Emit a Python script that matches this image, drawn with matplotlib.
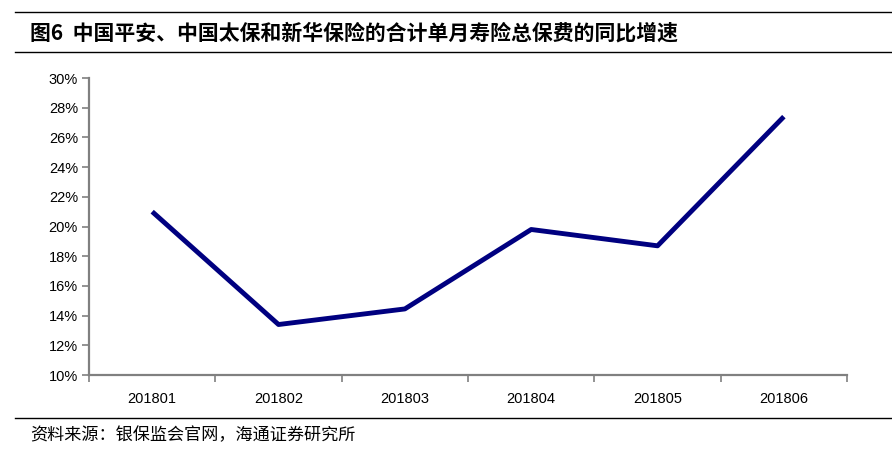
import matplotlib.pyplot as plt
import numpy as np
from matplotlib.lines import Line2D
from matplotlib.ticker import FixedLocator, PercentFormatter

plt.rcParams['font.family'] = ['Liberation Sans', 'Noto Sans CJK SC', 'DejaVu Sans']

months = ['201801', '201802', '201803', '201804', '201805', '201806']
growth = [21.0, 13.4, 14.45, 19.8, 18.7, 27.4]  # 同比增速(%)

title = '图6  中国平安、中国太保和新华保险的合计单月寿险总保费的同比增速'
source = '资料来源：银保监会官网，海通证券研究所'

fig = plt.figure(figsize=(8.92, 4.51), dpi=100)
ax = fig.add_axes([0.0998, 0.1685, 0.8498, 0.6585])

x = np.arange(len(months))
ax.plot(x, growth, color='#000080', linewidth=3.5, solid_capstyle='butt')

ax.set_xlim(-0.5, len(months) - 0.5)
ax.set_ylim(10, 30)
ax.set_yticks(np.arange(10, 31, 2))
ax.yaxis.set_major_formatter(PercentFormatter(decimals=0))

# 刻度线放在类别之间，标签放在类别中心
ax.xaxis.set_major_locator(FixedLocator(np.arange(-0.5, len(months), 1)))
ax.xaxis.set_minor_locator(FixedLocator(x))
ax.xaxis.set_major_formatter(plt.NullFormatter())
ax.set_xticks(x, months, minor=True)
ax.tick_params(axis='x', which='minor', length=0, pad=12, labelsize=10.5)
ax.tick_params(axis='x', which='major', length=5, width=1.2, color='#808080', direction='out')
ax.tick_params(axis='y', length=5, width=1.2, color='#808080', direction='out', labelsize=10.5, pad=3)

for side in ['top', 'right']:
    ax.spines[side].set_visible(False)
for side in ['left', 'bottom']:
    ax.spines[side].set_color('#808080')
    ax.spines[side].set_linewidth(1.6)

# 标题和来源的横线
for yy in [1 - 12 / 451, 1 - 52 / 451, 1 - 418 / 451]:
    fig.add_artist(Line2D([15 / 892, 1.0], [yy, yy], color='black', linewidth=1.0,
                          transform=fig.transFigure))

fig.text(30 / 892, 1 - 33 / 451, title, fontsize=15, fontweight='bold',
         family=['Noto Sans CJK SC', 'DejaVu Sans'], va='center', ha='left')
fig.text(30 / 892, 1 - 435 / 451, source, fontsize=12.3,
         family=['Noto Sans CJK SC', 'DejaVu Sans'], va='center', ha='left')

fig.savefig('out.png', dpi=100)
